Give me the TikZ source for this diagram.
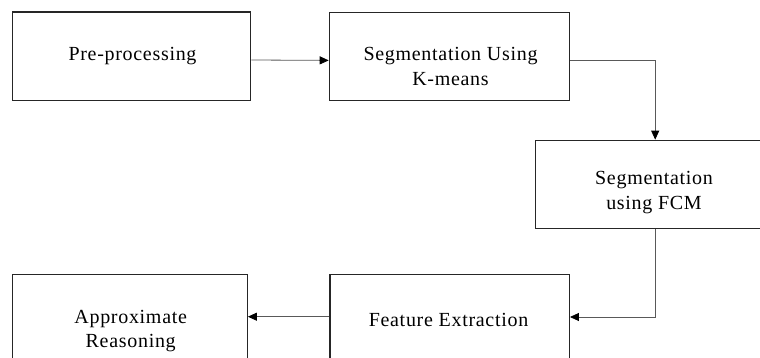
\documentclass[tikz,border=0pt]{standalone}
\usepackage{fontspec}
\setmainfont{Liberation Serif}[LetterSpace=3.5]
\usetikzlibrary{arrows.meta}

\begin{document}
\begin{tikzpicture}[x=1pt,y=-1pt,
  stage/.style={draw=black!85, line width=1.2pt, inner sep=0pt,
    minimum height=88.5pt, minimum width=#1},
  stage/.default=239pt,
  caption/.style={font=\fontsize{20}{24}\selectfont, anchor=base, inner sep=0pt},
  flow/.style={draw=black!65, line width=0.8pt,
    -{Triangle[length=9pt,width=8pt,color=black,fill=black]}}]

  \useasboundingbox (0,0) rectangle (760,358);
  \fill[white] (0,0) rectangle (760,358);
  \clip (0,0) rectangle (760,358);

  % processing stages
  \node[stage=238.4pt] (b1) at (131.5,56.2) {};
  \node[stage=240pt]   (b2) at (449.3,56.6) {};
  \node[stage=239.7pt] (b3) at (655.2,184.5) {};
  \node[stage=239.3pt] (b4) at (449.7,318.5) {};
  \node[stage=235pt]   (b5) at (129.8,318.7) {};

  % stage captions
  \node[caption] (t1)  at (132.5,60.5) {Pre-processing};
  \node[caption] (t2a) at (450.5,61)   {Segmentation Using};
  \node[caption] (t2b) at (450.5,85.5) {K-means};
  \node[caption] (t3a) at (654,185)    {Segmentation};
  \node[caption] (t3b) at (654,210)    {using FCM};
  \node[caption] (t4)  at (448.5,326)  {Feature Extraction};
  \node[caption] (t5a) at (130.7,323)  {Approximate};
  \node[caption] (t5b) at (130.7,347.5){Reasoning};

  % data flow
  \draw[flow] ([yshift=-3.8pt]b1.east) -- ([yshift=-3.8pt]b2.west);
  \draw[flow] ([yshift=-3.4pt]b2.east) -| (b3.north);
  \draw[flow] (b3.south) |- ([yshift=1.5pt]b4.east);
  \draw[flow] ([yshift=1.8pt]b4.west) -- ([yshift=2pt]b5.east);
\end{tikzpicture}
\end{document}
